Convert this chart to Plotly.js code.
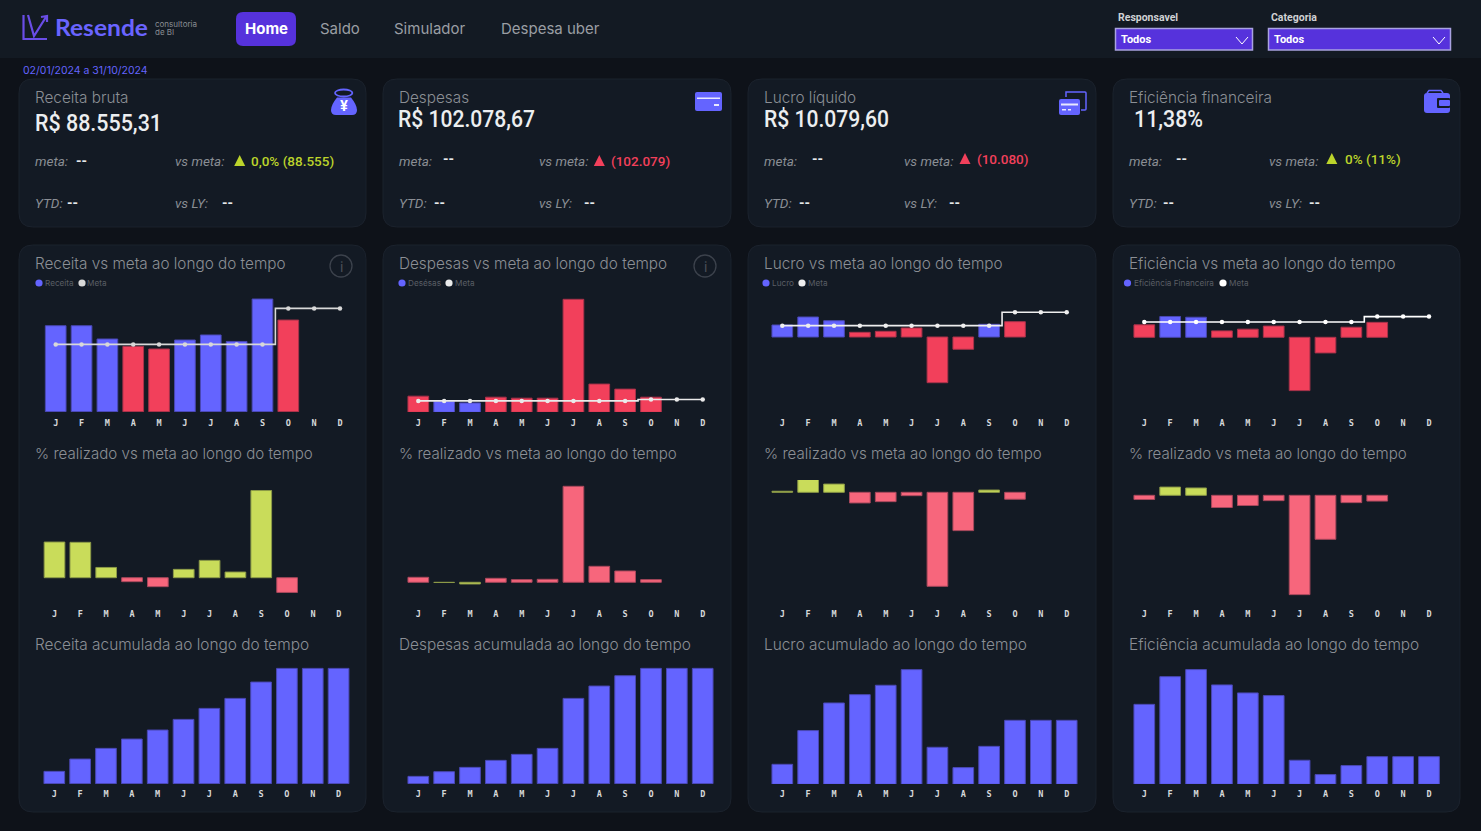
<!DOCTYPE html>
<html><head><meta charset="utf-8">
<script src="https://cdn.plot.ly/plotly-3.0.1.min.js"></script>
<style>html,body{margin:0;padding:0;background:#0e1219;overflow:hidden}#c{width:1481px;height:831px}</style>
</head><body><div id="c"></div>
<script>
var months=['J','F','M','A','M','J','J','A','S','O','N','D'];
var receita=[9570,9570,8090,7270,6980,7980,8540,7820,12540,10200];
var metaReceita=[7490,7490,7490,7490,7490,7490,7490,7490,7490,11500,11500,11500];
var despesas=[6350,4250,3700,5950,5560,5560,44510,11120,9130,5950];
var metaDespesas=[4500,4500,4500,4500,4500,4500,4500,4500,4500,5030,5030,5030];
var lucro=[3200,5340,4350,1250,1520,2400,-12200,-3280,3390,4090];
var metaLucro=[3030,3030,3030,3030,3030,3030,3030,3030,3030,6590,6590,6590];
var eficiencia=[33.4,55.8,53.8,17.2,21.8,30.1,-142.9,-41.9,27,40.1];
var metaEficiencia=[41,41,41,41,41,41,41,41,41,55.5,55.5,55.5];
var pctReceita=[27.8,27.6,8,-3.1,-7,6.5,13.5,4.4,68,-11.5];
var pctDespesas=[45,-2,-15,36,24,27,864,144,102,24];
var pctLucro=[5.6,76,44,-57,-50,-18,-503,-205,12,-37];
var pctEficiencia=[-19,37,33,-55,-46,-24,-447,-198,-33,-26];
var acumReceita=[9470,18940,27130,34300,41210,49400,57840,65520,78060,88555,88555,88555];
var acumDespesas=[6490,10620,14460,20650,25960,31270,75520,86440,95580,102079,102079,102079];
var acumLucro=[3150,8460,12810,14120,15600,18060,5830,2630,5980,10080,10080,10080];
var acumEficiencia=[32.9,44.3,47.2,40.9,37.6,36.5,9.9,4,7.7,11.38,11.38,11.38];

var W=1481,H=831;
var PURPLE='#6464ff',PURPLE_D='#4a48b4',RED='#f2405b',RED_D='#a8324a',LIME='#c9dc5a',LIME_D='#8c9a48',PINK='#f7667c',PINK_D='#a8485c';
var CARD='#131a24',EDGE='#1b222d',TITLE='#8b8f95',MUTED='#8a8e94';
var FT='Inter, sans-serif',FK='Roboto, sans-serif';
var X=function(v){return v/W},Y=function(v){return 1-v/H};
function P(s){var t=s.trim().split(/\s+/),o=[],isX=true;t.forEach(function(k){if(/^[MLCQZ]$/.test(k)){o.push(k);isX=true}else{o.push((isX?X(+k):Y(+k)).toFixed(5));isX=!isX}});return o.join(' ')}
function rr(a,b,c,d,r){return P('M '+(a+r)+' '+b+' L '+(c-r)+' '+b+' Q '+c+' '+b+' '+c+' '+(b+r)+' L '+c+' '+(d-r)+' Q '+c+' '+d+' '+(c-r)+' '+d+' L '+(a+r)+' '+d+' Q '+a+' '+d+' '+a+' '+(d-r)+' L '+a+' '+(b+r)+' Q '+a+' '+b+' '+(a+r)+' '+b+' Z')}
var shapes=[],anns=[];
function fillPath(d,fill,line,w){shapes.push({type:'path',xref:'paper',yref:'paper',path:d,fillcolor:fill,line:{color:line||fill,width:w==null?0:w},layer:'below'})}
function stroke(d,color,w){shapes.push({type:'path',xref:'paper',yref:'paper',path:d,line:{color:color,width:w},layer:'below'})}
function oval(x,y,rx,ry,fill,line,w){shapes.push({type:'circle',xref:'paper',yref:'paper',x0:X(x-rx),x1:X(x+rx),y0:Y(y+ry),y1:Y(y-ry),fillcolor:fill,line:{color:line||fill,width:w||0},layer:'below'})}
function dot(x,y,r,fill,line,w){oval(x,y,r,r,fill,line,w)}
function txt(s,x,y,size,color,fam,o){o=o||{};var a=o.a||'left';anns.push({text:s,x:X(a==='left'?x-1:x),y:Y(y),xref:'paper',yref:'paper',xanchor:a,yanchor:'middle',showarrow:false,align:'left',borderpad:0,font:{size:size,color:color,family:fam||FT,style:o.style||'normal',weight:o.weight||400}})}

// page furniture
shapes.push({type:'rect',xref:'paper',yref:'paper',x0:0,x1:1,y0:Y(58),y1:1,fillcolor:'#131a23',line:{width:0},layer:'below'});
var colL=[19,383,748,1113],colR=[366,731,1096,1460];
colL.forEach(function(l,i){fillPath(rr(l,79,colR[i],227,14),CARD,EDGE,1);fillPath(rr(l,245,colR[i],812,14),CARD,EDGE,1)});

// header
stroke(P('M 23.5 15 L 23.5 39 L 47 39'),'#6a4de6',2.2);
stroke(P('M 28 15 L 34 36 L 46 17 M 41 17 L 47 16 L 47 22'),'#6a4de6',2.2);
txt('Resende',55,27,22.5,'#6a64ff','Lato, sans-serif',{weight:700});
txt('consultoria',155,24,8,'#8a8e94');
txt('de BI',155,32,8,'#8a8e94');
fillPath(rr(236,12,296,46,7),'#5632dc');
txt('<b>Home</b>',266,29,15,'#fff',FT,{a:'center'});
txt('Saldo',320,29,15,'#9a9ea3');
txt('Simulador',394,29,15,'#9a9ea3');
txt('Despesa uber',501,29,15,'#9a9ea3');
txt('02/01/2024 a 31/10/2024',23,70.5,10.5,PURPLE);
[[1118,1115.5,1252.5,'Responsavel',1236],[1271,1268.5,1450.5,'Categoria',1433]].forEach(function(d){
  txt('<b>'+d[3]+'</b>',d[0],17.5,10.5,'#cfd1d4',FK);
  shapes.push({type:'rect',xref:'paper',yref:'paper',x0:X(d[1]),x1:X(d[2]),y0:Y(50),y1:Y(28.5),fillcolor:'#5632dc',line:{color:'#a9a2e0',width:1.5},layer:'below'});
  txt('<b>Todos</b>',d[1]+5,39,11,'#fff',FK);
  stroke(P('M '+d[4]+' 37 L '+(d[4]+6)+' 44 L '+(d[4]+12)+' 37'),'#fff',1);
});

// KPI cards
var kpi=[
 {t:'Receita bruta',v:'R$ 88.555,31',tx:35,vx:35,vy:123,mx:35,mdx:76,my:161,vmx:175,tri:239.7,trc:'#bcd42b',tv:'0,0% (88.555)',tvx:251,ry:161,yd:67,ld:222},
 {t:'Despesas',v:'R$ 102.078,67',tx:399,vx:398,vy:119,mx:399,mdx:443,my:159,vmx:539,tri:599.3,trc:RED,tv:'(102.079)',tvx:611,ry:161,yd:434,ld:584},
 {t:'Lucro líquido',v:'R$ 10.079,60',tx:764,vx:764,vy:119,mx:764,mdx:812,my:159,vmx:904,tri:965,trc:RED,tv:'(10.080)',tvx:977,ry:159,yd:799,ld:949},
 {t:'Eficiência financeira',v:'11,38%',tx:1129,vx:1134,vy:119,mx:1129,mdx:1176,my:159,vmx:1269,tri:1331.8,trc:'#bcd42b',tv:'0% (11%)',tvx:1345,ry:159,yd:1163,ld:1309}
];
kpi.forEach(function(k){
  txt(k.t,k.tx,97.5,15.3,TITLE,FT,{weight:300});
  txt(k.v,k.vx,k.vy,24,'#eceef0',FK,{weight:500});
  txt('meta:',k.mx,161.5,13.5,MUTED,FK,{style:'italic'});
  txt('--',k.mdx,k.my,14,'#e6e8ea',FK,{weight:700});
  txt('vs meta:',k.vmx,161.5,13.5,MUTED,FK,{style:'italic'});
  fillPath(P('M '+(k.tri-5.5)+' '+(k.ry+5)+' L '+k.tri+' '+(k.ry-6)+' L '+(k.tri+5.5)+' '+(k.ry+5)+' Z'),k.trc);
  txt(k.tv,k.tvx,k.ry,13.5,k.trc,FK,{weight:500});
  txt('YTD:',k.mx,203,13.5,MUTED,FK,{style:'italic'});
  txt('--',k.yd,203,14,'#e6e8ea',FK,{weight:700});
  txt('vs LY:',k.vmx,203,13.5,MUTED,FK,{style:'italic'});
  txt('--',k.ld,203,14,'#e6e8ea',FK,{weight:700});
});
// icons
oval(343.7,93,8.7,3.5,'rgba(0,0,0,0)',PURPLE,1.8);
fillPath(P('M 337 97.5 L 351 97.5 Q 357 105 357 110 Q 357 115 352 115 L 336 115 Q 331 115 331 110 Q 331 105 337 97.5 Z'),PURPLE);
txt('<b>¥</b>',344,105.5,14,'#fff',FT,{a:'center'});
fillPath(rr(695,92,722,111,2),PURPLE);
fillPath(P('M 697 97.5 L 720 97.5 L 720 99 L 697 99 Z'),'#e8e8ff');
fillPath(P('M 714 104 L 719 104 L 719 106 L 714 106 Z'),'#e8e8ff');
stroke(P('M 1066 97 L 1066 92 L 1085 92 Q 1086 92 1086 93 L 1086 109 Q 1086 110 1085 110 L 1081 110'),PURPLE,1.5);
fillPath(rr(1059,99,1080,115,2),PURPLE);
fillPath(P('M 1061 103.5 L 1078 103.5 L 1078 105.5 L 1061 105.5 Z'),'#e8e8ff');
fillPath(P('M 1062 109 L 1066 109 L 1066 110.5 L 1062 110.5 Z M 1068 109 L 1071 109 L 1071 110.5 L 1068 110.5 Z'),'#e8e8ff');
stroke(P('M 1427 93 L 1429 90.5 L 1441 90.5 L 1443 93'),PURPLE,1.5);
fillPath(rr(1424,93,1450,113,3),PURPLE);
fillPath(rr(1437,98,1450,108,1),CARD);
fillPath(rr(1439,100,1450,106,1),PURPLE);

// info icons and legend keys
[341,705].forEach(function(x){dot(x,266,11,'rgba(0,0,0,0)','#3c424c',1.3);txt('i',x,266,14,'#4a4f58',FT,{a:'center'})});
[[39,45,'Receita',82,87],[402,408,'Desésas',449,455],[766,772,'Lucro',802,808],[1127.5,1134,'Eficiência Financeira',1223,1229]].forEach(function(d,i){
  dot(d[0],283,3.6,PURPLE);txt(d[2],d[1],283,8.2,'#5a5e65');
  dot(d[3],283,3.6,['#d8d8d8','#eaeaea','#eeeeee','#ffffff'][i]);txt('Meta',d[4],283,8.2,'#5a5e65');
});

// titles
var t1=['Receita vs meta ao longo do tempo','Despesas vs meta ao longo do tempo','Lucro vs meta ao longo do tempo','Eficiência vs meta ao longo do tempo'];
var t3=['Receita acumulada ao longo do tempo','Despesas acumulada ao longo do tempo','Lucro acumulado ao longo do tempo','Eficiência acumulada ao longo do tempo'];
var tx=[35,399,764,1129];
tx.forEach(function(x,i){txt(t1[i],x,263.5,15.3,TITLE,FT,{weight:300});txt('% realizado vs meta ao longo do tempo',x,454,15.1,TITLE,FT,{weight:300});txt(t3[i],x,644.5,15.4,TITLE,FT,{weight:300})});

// charts
var idx=months.map(function(_,i){return i});
var traces=[],layout={};
var colJ=[[55.7,340],[418.3,702.7],[782.3,1066.7],[1144.3,1429]];
var rows=[{top:290,bot:412,so:4},{top:480,bot:603,so:4},{top:665,bot:784,so:3}];
var n=0;
function addChart(c,r,base,perPx,offs){
  n++;var s=n===1?'':String(n);
  var J=colJ[c][0]+(offs||0),D=colJ[c][1]+(offs||0),pitch=(D-J)/11;
  layout['xaxis'+s]={domain:[X(J-pitch/2),X(D+pitch/2)],range:[-0.5,11.5],anchor:'y'+s,tickmode:'array',tickvals:idx,ticktext:months,ticks:'',ticklen:0,ticklabelstandoff:rows[r].so,showgrid:false,zeroline:false,showline:false,tickfont:{size:8.5,color:'#d6d8da',family:'"DejaVu Sans Mono", monospace',weight:700},fixedrange:true};
  layout['yaxis'+s]={domain:[Y(rows[r].bot),Y(rows[r].top)],range:[(base-rows[r].bot)*perPx,(base-rows[r].top)*perPx],anchor:'x'+s,visible:false,showgrid:false,zeroline:false,fixedrange:true};
  return {x:'x'+s,y:'y'+s};
}
function bar(ax,vals,fills,lines,name){traces.push({type:'bar',name:name,x:idx.slice(0,vals.length),y:vals,xaxis:ax.x,yaxis:ax.y,marker:{color:fills,line:{color:lines,width:1}},hoverinfo:'skip'})}
function meta(ax,vals,color){traces.push({type:'scatter',mode:'lines+markers',name:'Meta',x:idx,y:vals,xaxis:ax.x,yaxis:ax.y,line:{shape:'hvh',color:color,width:1.6},marker:{size:4.5,color:color},hoverinfo:'skip'})}

var r1=[
 {v:receita,m:metaReceita,name:'Receita',base:411.7,s:111.3,good:function(a,b){return a>=b},c:'#d8d8d8'},
 {v:despesas,m:metaDespesas,name:'Despesas',base:412.3,s:393.9,good:function(a,b){return a<=b},c:'#eaeaea'},
 {v:lucro,m:metaLucro,name:'Lucro',base:337,s:267,good:function(a,b){return a>=b},c:'#eeeeee'},
 {v:eficiencia,m:metaEficiencia,name:'Eficiência Financeira',base:337.3,s:2.68,good:function(a,b){return a>=b},c:'#ffffff'}
];
r1.forEach(function(d,c){
  var ax=addChart(c,0,d.base,d.s,0);
  var g=d.v.map(function(a,i){return d.good(a,d.m[i])});
  bar(ax,d.v,g.map(function(b){return b?PURPLE:RED}),g.map(function(b){return b?PURPLE_D:RED_D}),d.name);
  meta(ax,d.m,d.c);
});
var r2=[
 {v:pctReceita,base:577.7,s:0.78,inv:false,off:-1.2},
 {v:pctDespesas,base:582.3,s:9,inv:true,off:0},
 {v:pctLucro,base:492.3,s:5.35,inv:false,off:0},
 {v:pctEficiencia,base:495.3,s:4.5,inv:false,off:0}
];
r2.forEach(function(d,c){
  var ax=addChart(c,1,d.base,d.s,d.off);
  var g=d.v.map(function(a){return d.inv?a<=0:a>=0});
  bar(ax,d.v,g.map(function(b){return b?LIME:PINK}),g.map(function(b){return b?LIME_D:PINK_D}),'% realizado');
});
var r3=[
 {v:acumReceita,base:783.7,s:768,off:-1.4},
 {v:acumDespesas,base:783.7,s:885.1,off:0},
 {v:acumLucro,base:784.3,s:157.5,off:0},
 {v:acumEficiencia,base:784.3,s:0.4115,off:0}
];
r3.forEach(function(d,c){
  var ax=addChart(c,2,d.base,d.s,d.off);
  bar(ax,d.v,PURPLE,PURPLE_D,'Acumulado');
});

// condensed display text: the reference face is narrower than any installed one
var fitWidths={'R$ 88.555,31':127,'R$ 102.078,67':137,'R$ 10.079,60':125,'11,38%':69,'Resende':93};

Object.assign(layout,{width:W,height:H,margin:{l:0,r:0,t:0,b:0,pad:0},autosize:false,paper_bgcolor:'#0e1219',plot_bgcolor:'rgba(0,0,0,0)',showlegend:false,bargap:0.2,barmode:'overlay',hovermode:false,shapes:shapes,annotations:anns,font:{family:FT}});
Plotly.newPlot('c',traces,layout,{displayModeBar:false,staticPlot:true}).then(function(){
  document.querySelectorAll('.annotation-text').forEach(function(el){
    var w=fitWidths[el.textContent];
    if(!w)return;
    var before=el.getBoundingClientRect().left;
    el.setAttribute('textLength',w);
    el.setAttribute('lengthAdjust','spacingAndGlyphs');
    var after=el.getBoundingClientRect().left;
    el.setAttribute('x',(parseFloat(el.getAttribute('x'))||0)+before-after);
  });
});
</script></body></html>
